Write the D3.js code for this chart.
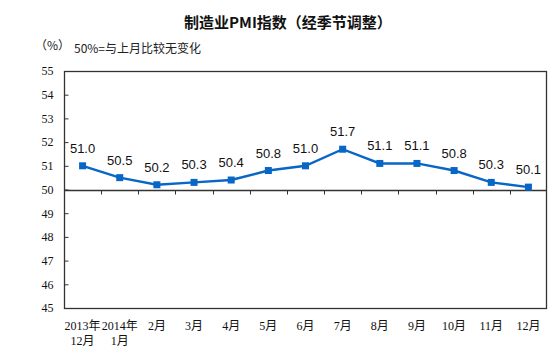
<!DOCTYPE html>
<html><head><meta charset="utf-8">
<script src="https://cdn.jsdelivr.net/npm/d3@7"></script>
<style>body{margin:0;background:#fff}svg{display:block}</style>
</head><body>
<svg id="c" width="553" height="364"></svg>
<script>
const categories = ["2013年\n12月","2014年\n1月","2月","3月","4月","5月","6月","7月","8月","9月","10月","11月","12月"];
const values = [51.0,50.5,50.2,50.3,50.4,50.8,51.0,51.7,51.1,51.1,50.8,50.3,50.1];
const yTicks = [45,46,47,48,49,50,51,52,53,54,55];
const title = "制造业PMI指数（经季节调整）";
const unitLabel = "（%）";
const note = "50%=与上月比较无变化";

const svg = d3.select("#c");
const L=64, R=547, T=71, B=308;
const x = d3.scaleBand().domain(d3.range(categories.length)).range([L,R]).padding(0);
const y = d3.scaleLinear().domain([45,55]).range([B,T]);
const serif = "'Liberation Serif','Noto Sans CJK SC',serif";
const axisColor = "#333";
const blue = "#0866C6";

svg.append("text").attr("x",288).attr("y",28).attr("text-anchor","middle")
  .attr("font-family","'Noto Sans CJK SC',sans-serif").attr("font-weight","bold")
  .attr("font-size",15).attr("fill","#111").text(title);
svg.append("text").attr("x",35).attr("y",50).attr("font-family","'Noto Sans CJK SC',sans-serif")
  .attr("font-size",12).attr("fill","#222").text(unitLabel);
svg.append("text").attr("x",74).attr("y",53).attr("font-family","'Noto Sans CJK SC',sans-serif")
  .attr("font-size",12).attr("fill","#222").text(note);

// frame
svg.append("rect").attr("x",L+0.5).attr("y",T+0.5).attr("width",R-L-1).attr("height",B-T)
  .attr("fill","none").attr("stroke",axisColor).attr("stroke-width",1.3);

// y axis
const yAxis = d3.axisLeft(y).tickValues(yTicks).tickSize(-4).tickPadding(12).tickFormat(d3.format("d"));
const ya = svg.append("g").attr("transform",`translate(${L+0.5},0)`).call(yAxis);
ya.select(".domain").remove();
ya.selectAll(".tick line").attr("stroke",axisColor);
ya.selectAll(".tick text").attr("font-family",serif).attr("font-size",12).attr("fill","#111").attr("x",-11);

// 50 line with ticks
svg.append("line").attr("x1",L).attr("x2",R).attr("y1",Math.round(y(50))+0.5).attr("y2",Math.round(y(50))+0.5)
  .attr("stroke",axisColor).attr("stroke-width",1.3);
svg.append("g").selectAll("line").data(d3.range(1,categories.length)).join("line")
  .attr("x1",d=>Math.round(x(d))+0.5).attr("x2",d=>Math.round(x(d))+0.5)
  .attr("y1",Math.round(y(50))+0.5).attr("y2",Math.round(y(50))+4.5)
  .attr("stroke",axisColor);

// x labels
const xl = svg.append("g").selectAll("text").data(categories).join("text")
  .attr("text-anchor","middle").attr("font-family",serif).attr("font-size",12).attr("fill","#111")
  .attr("transform",(d,i)=>`translate(${x(i)+x.bandwidth()/2},330)`);
xl.each(function(d){
  const lines=d.split("\n");
  d3.select(this).selectAll("tspan").data(lines).join("tspan")
    .attr("x",0).attr("dy",(l,j)=>j?15:0).text(l=>l);
});

// line
const cx = i => x(i)+x.bandwidth()/2;
svg.append("path").datum(values)
  .attr("d",d3.line().x((d,i)=>cx(i)).y(d=>y(d)))
  .attr("fill","none").attr("stroke",blue).attr("stroke-width",2.4);
svg.append("g").selectAll("rect").data(values).join("rect")
  .attr("x",(d,i)=>cx(i)-3.5).attr("y",d=>y(d)-3.5).attr("width",7).attr("height",7).attr("fill",blue);
svg.append("g").selectAll("text").data(values).join("text")
  .attr("x",(d,i)=>cx(i)).attr("y",d=>y(d)-13)
  .attr("text-anchor","middle").attr("font-family","'Liberation Sans',Arial,sans-serif")
  .attr("font-size",13).attr("fill","#111").text(d=>d.toFixed(1));
</script>
</body></html>
